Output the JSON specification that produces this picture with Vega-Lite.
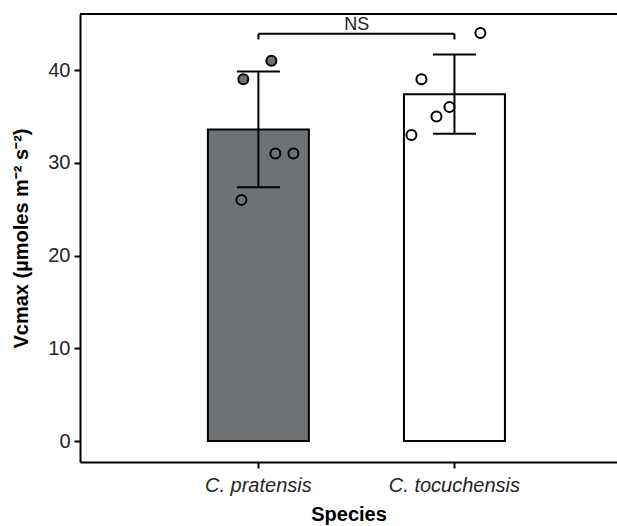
{
  "$schema": "https://vega.github.io/schema/vega-lite/v6.json",
  "width": 537,
  "height": 448,
  "autosize": {"type": "none"},
  "padding": {"left": 80, "top": 14, "right": 0, "bottom": 64},
  "background": "white",
  "config": {"view": {"stroke": null}, "font": "Liberation Sans"},
  "resolve": {"scale": {"xOffset": "independent"}},
  "datasets": {
    "obs": [
      {"species": "C. pratensis", "vcmax": 39, "jitter": -0.149},
      {"species": "C. pratensis", "vcmax": 41, "jitter": 0.129},
      {"species": "C. pratensis", "vcmax": 31, "jitter": 0.168},
      {"species": "C. pratensis", "vcmax": 31, "jitter": 0.347},
      {"species": "C. pratensis", "vcmax": 26, "jitter": -0.168},
      {"species": "C. tocuchensis", "vcmax": 44, "jitter": 0.257},
      {"species": "C. tocuchensis", "vcmax": 39, "jitter": -0.327},
      {"species": "C. tocuchensis", "vcmax": 36, "jitter": -0.05},
      {"species": "C. tocuchensis", "vcmax": 35, "jitter": -0.178},
      {"species": "C. tocuchensis", "vcmax": 33, "jitter": -0.426}
    ],
    "bracket": [
      {"from": "C. pratensis", "to": "C. tocuchensis", "y": 43.9, "label": "NS", "labelY": 44.9}
    ],
    "bracketEnds": [
      {"species": "C. pratensis", "y": 43.9, "yend": 43.3},
      {"species": "C. tocuchensis", "y": 43.9, "yend": 43.3}
    ]
  },
  "layer": [
    {
      "data": {"name": "obs"},
      "mark": {"type": "bar", "stroke": "black", "strokeWidth": 2, "width": {"band": 1}},
      "encoding": {
        "x": {
          "field": "species",
          "type": "nominal",
          "sort": ["C. pratensis", "C. tocuchensis"],
          "scale": {"type": "band", "domain": ["C. pratensis", "C. tocuchensis"], "paddingInner": 0.485, "paddingOuter": 0.612, "align": 0.533},
          "axis": {
            "title": "Species",
            "titleFont": "Liberation Sans",
            "titleFontSize": 20,
            "titleFontWeight": "bold",
            "titleColor": "black",
            "titlePadding": 9,
            "labelAngle": 0,
            "labelFontSize": 20,
            "labelFontStyle": "italic",
            "labelColor": "#262626",
            "labelPadding": 7,
            "domainColor": "black",
            "domainWidth": 2,
            "tickColor": "black",
            "tickWidth": 2,
            "tickSize": 6
          }
        },
        "y": {
          "aggregate": "mean",
          "field": "vcmax",
          "type": "quantitative",
          "scale": {"domain": [-2.26, 46.04], "nice": false, "zero": false},
          "axis": {
            "title": "Vcmax (µmoles m⁻² s⁻²)",
            "titleFont": "Liberation Sans",
            "titleFontSize": 20,
            "titleFontWeight": "bold",
            "titleColor": "black",
            "titlePadding": 16,
            "values": [0, 10, 20, 30, 40],
            "grid": false,
            "labelFontSize": 20,
            "labelColor": "#262626",
            "labelPadding": 4,
            "domainColor": "black",
            "domainWidth": 2,
            "tickColor": "black",
            "tickWidth": 2,
            "tickSize": 6
          }
        },
        "fill": {
          "field": "species",
          "type": "nominal",
          "scale": {"domain": ["C. pratensis", "C. tocuchensis"], "range": ["#6f7274", "#ffffff"]},
          "legend": null
        }
      }
    },
    {
      "data": {"name": "obs"},
      "mark": {"type": "errorbar", "extent": "stdev", "ticks": {"color": "black", "opacity": 1, "strokeWidth": 2}, "rule": {"color": "black", "opacity": 1, "strokeWidth": 2}, "size": 43, "thickness": 2, "color": "black", "opacity": 1},
      "encoding": {
        "x": {"field": "species", "type": "nominal"},
        "y": {"field": "vcmax", "type": "quantitative", "title": "Vcmax (µmoles m⁻² s⁻²)"}
      }
    },
    {
      "data": {"name": "obs"},
      "mark": {"type": "point", "shape": "circle", "filled": true, "size": 100, "stroke": "black", "strokeWidth": 2, "opacity": 1},
      "encoding": {
        "x": {"field": "species", "type": "nominal"},
        "y": {"field": "vcmax", "type": "quantitative", "title": "Vcmax (µmoles m⁻² s⁻²)"},
        "xOffset": {"field": "jitter", "type": "quantitative", "scale": {"domain": [-0.5, 0.5]}},
        "fill": {"field": "species", "type": "nominal", "legend": null}
      }
    },
    {
      "data": {"name": "bracket"},
      "mark": {"type": "rule", "color": "black", "strokeWidth": 2},
      "encoding": {
        "x": {"field": "from", "type": "nominal", "bandPosition": 0.5},
        "x2": {"field": "to", "bandPosition": 0.5},
        "y": {"field": "y", "type": "quantitative"}
      }
    },
    {
      "data": {"name": "bracketEnds"},
      "mark": {"type": "rule", "color": "black", "strokeWidth": 2},
      "encoding": {
        "x": {"field": "species", "type": "nominal", "bandPosition": 0.5},
        "y": {"field": "y", "type": "quantitative"},
        "y2": {"field": "yend"}
      }
    },
    {
      "data": {"name": "bracket"},
      "mark": {"type": "text", "fontSize": 18, "color": "#222222", "font": "Liberation Sans", "baseline": "middle", "align": "center"},
      "encoding": {
        "x": {"field": "from", "type": "nominal", "bandPosition": 1.475},
        "y": {"field": "labelY", "type": "quantitative"},
        "text": {"field": "label"}
      }
    },
    {
      "data": {"values": [{"top": 46.04}]},
      "mark": {"type": "rule", "color": "black", "strokeWidth": 2},
      "encoding": {
        "y": {"field": "top", "type": "quantitative"}
      }
    }
  ]
}
